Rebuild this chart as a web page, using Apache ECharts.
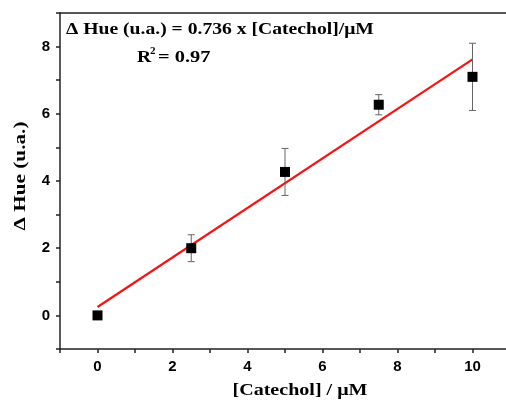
<!DOCTYPE html>
<html><head><meta charset="utf-8">
<script src="https://cdn.jsdelivr.net/npm/echarts@6/dist/echarts.min.js"></script>
<style>html,body{margin:0;padding:0;background:#fff}#c{width:506px;height:403px}</style>
</head><body><div id="c"></div>
<script>
const concentrations = [0, 2.5, 5, 7.5, 10];
const hueValues = [0.0, 2.0, 4.27, 6.27, 7.1];
const hueErrors = [0.0, 0.4, 0.7, 0.3, 1.0];
const fitX = [0, 10];
const fitY = [0.25, 7.62];
const xTickLabels = [0, 2, 4, 6, 8, 10];
const yTickLabels = [0, 2, 4, 6, 8];
const equationText = 'Δ Hue (u.a.) = 0.736 x [Catechol]/μM';
const xName = '[Catechol] / μM';
const yName = 'Δ Hue (u.a.)';

const axisColor = '#222';
const serif = '"Liberation Serif", "Times New Roman", serif';
const sans = '"Liberation Sans", Arial, sans-serif';

function axisCommon(labels) {
  return {
    axisLine: { show: true, onZero: false, lineStyle: { color: axisColor, width: 1.5 } },
    axisTick: { show: true, inside: false, length: 4, lineStyle: { color: axisColor, width: 1.5 } },
    axisLabel: {
      formatter: v => labels.includes(Math.round(v * 1000) / 1000) ? String(v) : '',
      fontFamily: sans, fontWeight: 'bold', fontSize: 15, color: '#000'
    },
    splitLine: { show: false }
  };
}

const chart = echarts.init(document.getElementById('c'), null, { renderer: 'canvas' });
const xa = axisCommon(xTickLabels); xa.axisLabel.margin = 10;
const ya = axisCommon(yTickLabels); ya.axisLabel.margin = 10;

chart.setOption({
  animation: false,
  backgroundColor: '#fff',
  grid: { left: 60, width: 450, top: 13, height: 336, containLabel: false, outerBoundsMode: 'none' },
  xAxis: [
    Object.assign({ type: 'value', min: -1, max: 11, interval: 1, position: 'bottom' }, xa),
    { type: 'value', min: -1, max: 11, position: 'top',
      axisLine: { show: true, onZero: false, lineStyle: { color: axisColor, width: 1.5 } },
      axisTick: { show: false }, axisLabel: { show: false }, splitLine: { show: false } }
  ],
  yAxis: [Object.assign({ type: 'value', min: -1, max: 9, interval: 1 }, ya)],
  series: [
    {
      type: 'line', data: fitX.map((x, i) => [x, fitY[i]]), showSymbol: false, symbol: 'none',
      lineStyle: { color: '#f41414', width: 2.2 }, z: 2
    },
    {
      type: 'custom', z: 3,
      data: concentrations.map((x, i) => [x, hueValues[i], hueErrors[i]]),
      renderItem: (params, api) => {
        const x = api.value(0), y = api.value(1), e = api.value(2);
        if (!e) return null;
        const top = api.coord([x, y + e]);
        const bot = api.coord([x, y - e]);
        const hw = 3.5;
        const st = { stroke: '#666', lineWidth: 1 };
        return { type: 'group', children: [
          { type: 'line', shape: { x1: top[0], y1: top[1], x2: bot[0], y2: bot[1] }, style: st },
          { type: 'line', shape: { x1: top[0] - hw, y1: top[1], x2: top[0] + hw, y2: top[1] }, style: st },
          { type: 'line', shape: { x1: bot[0] - hw, y1: bot[1], x2: bot[0] + hw, y2: bot[1] }, style: st }
        ] };
      }
    },
    {
      type: 'scatter', z: 4, symbol: 'rect', symbolSize: 10,
      data: concentrations.map((x, i) => [x, hueValues[i]]),
      itemStyle: { color: '#000', opacity: 1 }
    }
  ],
  graphic: [
    { type: 'text', x: 66, y: 30, scaleX: 1.155,
      style: { text: equationText, font: 'bold 17px ' + serif, fill: '#000', verticalAlign: 'middle' } },
    { type: 'text', x: 137, y: 58, scaleX: 1.15,
      style: { text: 'R', font: 'bold 17px ' + serif, fill: '#000', verticalAlign: 'middle' } },
    { type: 'text', x: 150, y: 51,
      style: { text: '2', font: 'bold 11px ' + serif, fill: '#000', verticalAlign: 'middle' } },
    { type: 'text', x: 158, y: 58, scaleX: 1.2,
      style: { text: '= 0.97', font: 'bold 17px ' + serif, fill: '#000', verticalAlign: 'middle' } },
    { type: 'text', x: 21, y: 176, rotation: Math.PI / 2, scaleX: 1.25,
      style: { text: yName, font: 'bold 17px ' + serif, fill: '#000', align: 'center', verticalAlign: 'middle' } },
    { type: 'text', x: 300, y: 391, scaleX: 1.18,
      style: { text: xName, font: 'bold 17px ' + serif, fill: '#000', align: 'center', verticalAlign: 'middle' } }
  ]
});
</script>
</body></html>
